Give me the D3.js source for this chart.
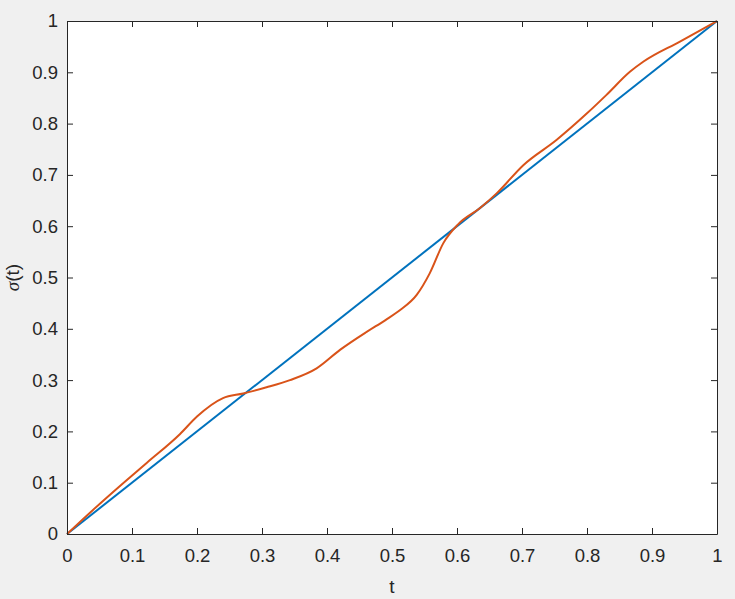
<!DOCTYPE html>
<html>
<head>
<meta charset="utf-8">
<script src="https://cdn.jsdelivr.net/npm/d3@7"></script>
<style>
  body { margin: 0; background: #f0f0f0; }
  svg { display: block; }
  .tick text { font-family: "Liberation Sans", Arial, sans-serif; font-size: 18.5px; fill: #262626; }
  .axisText { font-family: "Liberation Sans", Arial, sans-serif; font-size: 19px; fill: #262626; }
</style>
</head>
<body>
<div id="chart"></div>
<script>
// tick values
var tickVals = [0, 0.1, 0.2, 0.3, 0.4, 0.5, 0.6, 0.7, 0.8, 0.9, 1];

// identity line
var lineT = [0, 1];
var lineS = [0, 1];

// sigma(t) curve
var curveT = [0, 0.04, 0.089, 0.123, 0.174, 0.2, 0.24, 0.271, 0.307, 0.343, 0.384, 0.42, 0.461,
  0.49, 0.512, 0.538, 0.558, 0.579, 0.602, 0.635, 0.661, 0.702, 0.753, 0.8, 0.83, 0.866, 0.887, 0.943, 1];
var curveS = [0, 0.047, 0.102, 0.139, 0.195, 0.229, 0.265, 0.274, 0.286, 0.3, 0.323, 0.359, 0.394,
  0.417, 0.436, 0.466, 0.508, 0.567, 0.604, 0.635, 0.664, 0.719, 0.768, 0.82, 0.856, 0.901, 0.921, 0.96, 1];

var svgWidth = 735;
var svgHeight = 599;

var chartMargin = { top: 21, right: 18, bottom: 65, left: 67 };
var chartWidth = svgWidth - chartMargin.left - chartMargin.right;
var chartHeight = svgHeight - chartMargin.top - chartMargin.bottom;

var svg = d3.select("#chart")
    .append("svg")
    .attr("width", svgWidth)
    .attr("height", svgHeight);

var chartGroup = svg.append("g")
    .attr("transform", `translate(${chartMargin.left}, ${chartMargin.top})`);

chartGroup.append("rect")
    .attr("width", chartWidth)
    .attr("height", chartHeight)
    .attr("fill", "white");

var xScale = d3.scaleLinear().domain([0, 1]).range([0, chartWidth]);
var yScale = d3.scaleLinear().domain([0, 1]).range([chartHeight, 0]);

var fmt = d3.format("");

function styleAxis(g) {
    g.select(".domain").attr("stroke", "#262626");
    g.selectAll(".tick line").attr("stroke", "#262626");
}

// lines
var lineGen = d3.line()
    .x(function (d) { return xScale(d[0]); })
    .y(function (d) { return yScale(d[1]); });

chartGroup.append("path")
    .datum(lineT.map(function (t, i) { return [t, lineS[i]]; }))
    .attr("d", lineGen)
    .attr("fill", "none")
    .attr("stroke", "#0072bd")
    .attr("stroke-width", 2);

chartGroup.append("path")
    .datum(curveT.map(function (t, i) { return [t, curveS[i]]; }))
    .attr("d", lineGen.curve(d3.curveMonotoneX))
    .attr("fill", "none")
    .attr("stroke", "#d95319")
    .attr("stroke-width", 2);

// axes, ticks pointing inward
chartGroup.append("g")
    .attr("transform", `translate(0, ${chartHeight})`)
    .call(d3.axisBottom(xScale).tickValues(tickVals).tickFormat(fmt).tickSizeInner(-6).tickSizeOuter(0).tickPadding(15))
    .call(styleAxis);

chartGroup.append("g")
    .call(d3.axisLeft(yScale).tickValues(tickVals).tickFormat(fmt).tickSizeInner(-6).tickSizeOuter(0).tickPadding(9))
    .call(styleAxis);

chartGroup.append("g")
    .call(d3.axisTop(xScale).tickValues(tickVals).tickFormat("").tickSizeInner(-6).tickSizeOuter(0))
    .call(styleAxis);

chartGroup.append("g")
    .attr("transform", `translate(${chartWidth}, 0)`)
    .call(d3.axisRight(yScale).tickValues(tickVals).tickFormat("").tickSizeInner(-6).tickSizeOuter(0))
    .call(styleAxis);

chartGroup.selectAll(".tick text").attr("font-family", null).attr("font-size", null);

// axis labels
chartGroup.append("text")
    .attr("class", "axisText")
    .attr("text-anchor", "middle")
    .attr("x", chartWidth / 2)
    .attr("y", chartHeight + 59)
    .text("t");

var yLab = chartGroup.append("text")
    .attr("class", "axisText")
    .attr("text-anchor", "middle")
    .attr("transform", `translate(${-48}, ${chartHeight / 2}) rotate(-90)`);
yLab.append("tspan").attr("font-family", "Liberation Serif, serif").attr("font-style", "italic").text("σ");
yLab.append("tspan").text("(t)");
</script>
</body>
</html>
